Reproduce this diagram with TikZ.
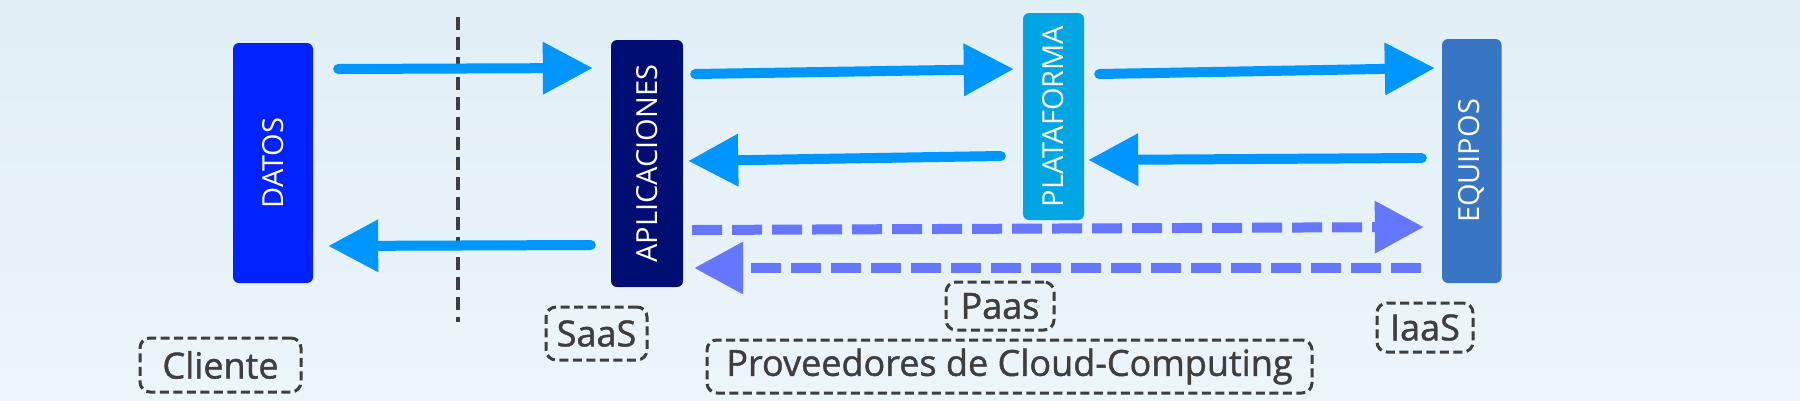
\documentclass[tikz,border=0pt]{standalone}
\usepackage{fontspec}
\setmainfont{Open Sans}
\newfontfamily\labfont[FakeBold=1.2]{Open Sans}
\usetikzlibrary{arrows.meta}
\definecolor{bgA}{RGB}{225,239,246}
\definecolor{bgB}{RGB}{236,245,250}
\definecolor{datosc}{RGB}{0,34,255}
\definecolor{aplc}{RGB}{0,14,115}
\definecolor{platc}{RGB}{0,165,228}
\definecolor{equipc}{RGB}{56,118,196}
\definecolor{arrowblue}{RGB}{0,150,255}
\definecolor{dashblue}{RGB}{102,119,255}
\definecolor{labgray}{RGB}{62,62,62}
\begin{document}
\begin{tikzpicture}[x=1pt,y=-1pt,
  layer/.style={rectangle, rounded corners=6pt, inner sep=0pt, text=white,
    font=\fontsize{29}{30}\selectfont},
  sol/.style={line width=10pt, draw=arrowblue, line cap=round,
    -{Triangle[length=50pt,width=50pt]}},
  dsh/.style={line width=10pt, draw=dashblue, dash pattern=on 30pt off 10pt,
    -{Triangle[length=49pt,width=50pt]}},
  lab/.style={draw=labgray, line width=3pt, dash pattern=on 9pt off 4.5pt,
    rounded corners=10pt, text=labgray, inner sep=0pt,
    font=\labfont\fontsize{36}{38}\selectfont},
  sep/.style={draw=labgray, line width=3.5pt, dash pattern=on 13pt off 7pt}]
\useasboundingbox (0,0) rectangle (1800,400);
\shade[top color=bgA, bottom color=bgB] (0,0) rectangle (1800,400);

% layers
\node[layer, fill=datosc, minimum width=80pt, minimum height=240pt] (datos) at (273,163)
  {\rotatebox{90}{DATOS}};
\node[layer, fill=aplc, minimum width=72pt, minimum height=247pt] (apl) at (647,163.5)
  {\rotatebox{90}{APLICACIONES}};
\node[layer, fill=platc, minimum width=61pt, minimum height=207pt] (plat) at (1053.5,116.5)
  {\rotatebox{90}{PLATAFORMA}};
\node[layer, fill=equipc, minimum width=59.5pt, minimum height=244pt] (equip) at (1471.75,161)
  {\rotatebox{90}{EQUIPOS}};

% separator
\coordinate (vtop) at (458,17);
\coordinate (vbot) at (458,322);
\draw[sep] (vtop) -- (vbot);

% solid arrows
\draw[sol] ([xshift=25pt,yshift=94pt]datos.east) -- ([xshift=-18pt,yshift=95.5pt]apl.west);
\draw[sol] ([xshift=-20pt,yshift=-81.5pt]apl.west) -- ([xshift=15pt,yshift=-83pt]datos.east);
\draw[sol] ([xshift=12pt,yshift=89.5pt]apl.east) -- ([xshift=-9pt,yshift=47.5pt]plat.west);
\draw[sol] ([xshift=-22pt,yshift=-39.5pt]plat.west) -- ([xshift=5pt,yshift=2.5pt]apl.east);
\draw[sol] ([xshift=15pt,yshift=42.5pt]plat.east) -- ([xshift=-7pt,yshift=93pt]equip.west);
\draw[sol] ([xshift=-20pt,yshift=3pt]equip.west) -- ([xshift=4pt,yshift=-43.5pt]plat.east);

% dashed arrows
\draw[dsh] ([xshift=9pt,yshift=-66.5pt]apl.east) -- ([xshift=-18pt,yshift=-66pt]equip.west);
\draw[dsh] ([xshift=-21pt,yshift=-107pt]equip.west) -- ([xshift=11pt,yshift=-104.5pt]apl.east);

% labels
\node[lab, minimum width=161pt, minimum height=54pt] (cliente) at (220.5,365) {Cliente};
\node[lab, minimum width=101pt, minimum height=53pt] (saas) at (596.5,333.5) {SaaS};
\node[lab, minimum width=108pt, minimum height=48pt] (paas) at (1000,306) {Paas};
\node[lab, minimum width=96pt, minimum height=49pt] (iaas) at (1425,327.5) {IaaS};
\node[lab, minimum width=605pt, minimum height=53pt] (prov) at (1009.5,366.5) {Proveedores de Cloud-Computing};
\end{tikzpicture}
\end{document}
